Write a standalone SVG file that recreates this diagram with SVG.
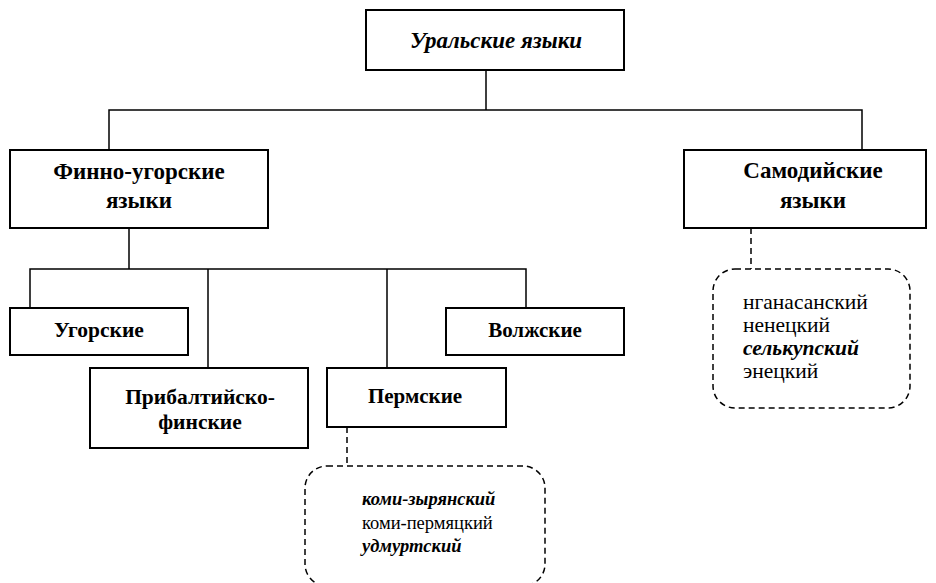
<svg xmlns="http://www.w3.org/2000/svg" width="936" height="583" viewBox="0 0 936 583">
<style>
.box{fill:#fff;stroke:#000;stroke-width:2}
.dbox{fill:none;stroke:#000;stroke-width:1.5;stroke-dasharray:6 4}
.ln{fill:none;stroke:#000;stroke-width:1.5}
.dl{fill:none;stroke:#000;stroke-width:1.5;stroke-dasharray:6 4}
text{font-family:'Liberation Serif','Times New Roman',serif;fill:#000}
.h{font-weight:bold;font-size:21px;text-anchor:middle}
.t{font-size:20px}
.bi{font-weight:bold;font-style:italic}
</style>
<rect width="936" height="583" fill="#fff"/>
<g id="connectors">
<path class="ln" d="M486 70V110M109 150V110H862V150"/>
<path class="ln" d="M129 228V269M30 308V269H526V308M208 269V368M387 269V368"/>
<path class="dl" d="M751 228V269"/>
<path class="dl" d="M347 427V466"/>
</g>
<g id="ural">
<rect class="box" x="366" y="10" width="258" height="60"/>
<text class="h" x="496" y="48" style="font-style:italic;font-size:23px">Уральские языки</text>
</g>
<g id="finno-ugric">
<rect class="box" x="10" y="150" width="258" height="78"/>
<text class="h" x="139" y="179" style="font-size:23px">Финно-угорские</text>
<text class="h" x="139" y="208" style="font-size:23px">языки</text>
</g>
<g id="samoyed">
<rect class="box" x="684" y="150" width="242" height="78"/>
<text class="h" x="813" y="178" style="font-size:23px">Самодийские</text>
<text class="h" x="813" y="208" style="font-size:23px">языки</text>
</g>
<g id="ugric">
<rect class="box" x="10" y="308" width="178" height="47"/>
<text class="h" x="99" y="337" style="font-size:21.5px">Угорские</text>
</g>
<g id="baltic-finnic">
<rect class="box" x="90" y="368" width="218" height="80"/>
<text class="h" x="200" y="404" style="font-size:21.5px">Прибалтийско-</text>
<text class="h" x="200" y="429" style="font-size:21.5px">финские</text>
</g>
<g id="permic">
<rect class="box" x="327" y="368" width="179" height="59"/>
<text class="h" x="415" y="403">Пермские</text>
</g>
<g id="volgaic">
<rect class="box" x="446" y="308" width="178" height="47"/>
<text class="h" x="535" y="337">Волжские</text>
</g>
<g id="samoyed-list">
<rect class="dbox" x="713" y="269" width="197" height="139" rx="22" ry="22"/>
<text class="t" x="743" y="309" style="font-size:21.5px">нганасанский</text>
<text class="t" x="743" y="332" style="font-size:21.5px">ненецкий</text>
<text class="t bi" x="743" y="355" style="font-size:21.5px">селькупский</text>
<text class="t" x="743" y="378" style="font-size:21.5px">энецкий</text>
</g>
<g id="permic-list">
<rect class="dbox" x="305" y="466" width="240" height="120" rx="22" ry="22"/>
<text class="t bi" x="362" y="505" style="font-size:18.5px">коми-зырянский</text>
<text class="t" x="362" y="529" style="font-size:18.5px">коми-пермяцкий</text>
<text class="t bi" x="362" y="552" style="font-size:18.5px">удмуртский</text>
</g>
</svg>
